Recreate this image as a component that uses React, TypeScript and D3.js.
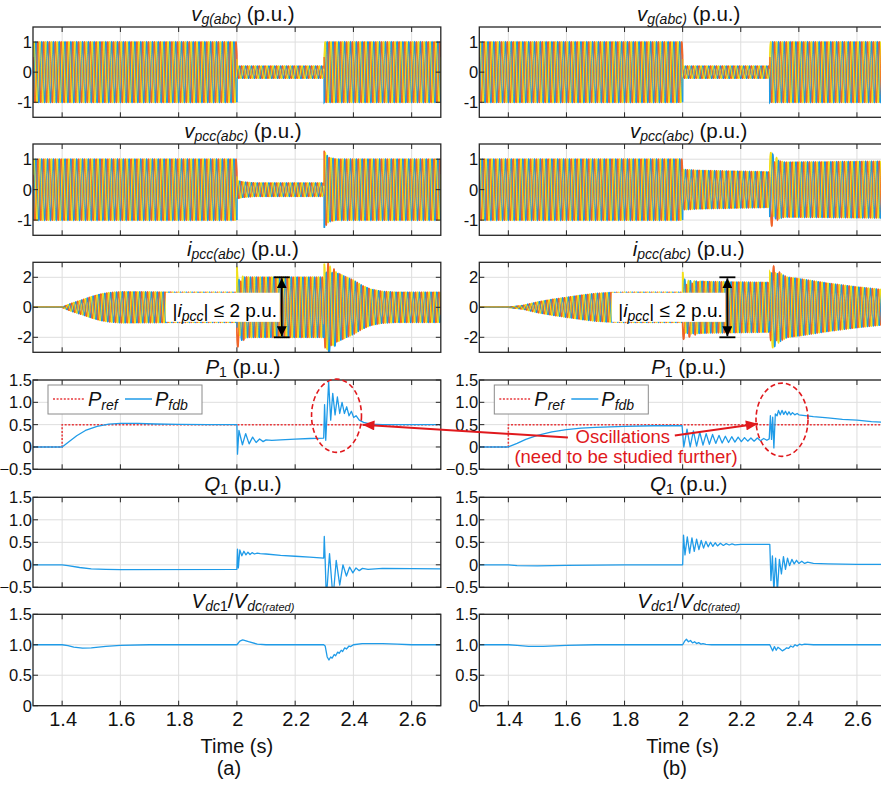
import React, { useMemo } from "react";
import * as d3 from "d3";

type Pt = [number, number];

// ---------- time axis ----------
const T_START = 1.3;
const T_END = 2.7;
const TIME_TICKS = [1.4, 1.6, 1.8, 2, 2.2, 2.4, 2.6];

// ---------- value axes ----------
const V_TICKS = [-1, 0, 1];
const I_TICKS = [-2, 0, 2];
const PQ_TICKS = [-0.5, 0, 0.5, 1, 1.5];
const VDC_TICKS = [0, 0.5, 1, 1.5];

// ---------- three-phase carrier ----------
const F_GRID = 50; // Hz
const PHASE_COLORS = ["#1c9be6", "#f1652b", "#f2e01c"];
const V_PHASE_DEG = [-90, -210, 30];
const I_PHASE_DEG = [-30, -150, 90];

// Peak-amplitude envelopes of the phase quantities, [t (s), peak (p.u.)]
const vgEnv: Pt[] = [[1.3, 1], [2.0, 1], [2.0, 0.2], [2.3, 0.2], [2.3, 1], [2.7, 1]];

const vpccEnvA: Pt[] = [[1.3, 1], [2.0, 1], [2.0, 0.3], [2.02, 0.25], [2.06, 0.22], [2.3, 0.22], [2.3, 1.25], [2.315, 1.05], [2.34, 1.0], [2.7, 1.0]];
const vpccEnvB: Pt[] = [[1.3, 1], [2.0, 1], [2.0, 0.66], [2.05, 0.63], [2.3, 0.58], [2.3, 0.9], [2.31, 1.05], [2.33, 0.95], [2.35, 0.9], [2.5, 0.91], [2.7, 0.93]];

const ipccEnvA: Pt[] = [[1.3, 0], [1.4, 0], [1.43, 0.25], [1.47, 0.5], [1.5, 0.7], [1.53, 0.87], [1.56, 0.97], [1.6, 1.03], [1.7, 1.02], [1.8, 1.0], [2.0, 1.0], [2.0, 2.1], [2.04, 2.0], [2.3, 2.0], [2.3, 2.9], [2.32, 2.7], [2.34, 2.35], [2.37, 2.05], [2.4, 1.8], [2.43, 1.45], [2.46, 1.2], [2.5, 1.05], [2.55, 1.0], [2.7, 1.0]];
const ipccEnvB: Pt[] = [[1.3, 0], [1.4, 0], [1.45, 0.12], [1.5, 0.35], [1.55, 0.52], [1.6, 0.66], [1.65, 0.8], [1.7, 0.92], [1.75, 0.98], [1.8, 1.0], [2.0, 1.0], [2.0, 1.8], [2.03, 1.75], [2.1, 1.7], [2.3, 1.65], [2.3, 2.6], [2.33, 2.3], [2.36, 2.0], [2.4, 1.9], [2.5, 1.6], [2.6, 1.35], [2.7, 1.15]];

// Per-phase transient offsets (blue, orange, yellow), [t (s), offset (p.u.)]
const vpccDcA: Pt[][] = [
  [[1.3, 0], [2.7, 0]],
  [[1.3, 0], [2.3, 0], [2.3, 0.65], [2.305, 0], [2.7, 0]],
  [[1.3, 0], [2.7, 0]],
];
const vpccDcB: Pt[][] = [
  [[1.3, 0], [2.3, 0], [2.302, 0.15], [2.33, 0], [2.7, 0]],
  [[1.3, 0], [2.3, 0], [2.3, -0.25], [2.33, 0], [2.7, 0]],
  [[1.3, 0], [2.3, 0], [2.3, 0.3], [2.33, 0], [2.7, 0]],
];
const ipccDcA: Pt[][] = [
  [[1.3, 0], [2.0, 0], [2.0, -0.3], [2.03, 0], [2.3, 0], [2.3, -0.6], [2.35, 0], [2.7, 0]],
  [[1.3, 0], [2.0, 0], [2.0, -0.6], [2.03, 0], [2.3, 0], [2.3, 0.2], [2.35, 0], [2.7, 0]],
  [[1.3, 0], [2.0, 0], [2.0, 0.6], [2.015, 0], [2.7, 0]],
];
const ipccDcB: Pt[][] = [
  [[1.3, 0], [2.0, 0], [2.0, 0.1], [2.03, 0], [2.3, 0], [2.3, -0.3], [2.34, 0], [2.7, 0]],
  [[1.3, 0], [2.0, 0], [2.0, -0.35], [2.06, 0], [2.3, 0], [2.3, 0.4], [2.34, 0], [2.7, 0]],
  [[1.3, 0], [2.0, 0], [2.0, 0.55], [2.012, 0], [2.3, 0], [2.3, -0.25], [2.34, 0], [2.7, 0]],
];

// ---------- active power ----------
const pRef: Pt[] = [[1.3, 0], [1.4, 0], [1.4, 0.5], [2.7, 0.5]];
const pFdbA: Pt[] = [
  [1.3, 0], [1.4, 0], [1.42, 0.1], [1.45, 0.25], [1.48, 0.37], [1.52, 0.46], [1.56, 0.51], [1.6, 0.53], [1.66, 0.53], [1.72, 0.515], [1.8, 0.505], [1.9, 0.5], [2.0, 0.5],
  [2.002, -0.16], [2.007, 0.37], [2.019, 0.05], [2.03, 0.3], [2.042, 0.07], [2.054, 0.22], [2.066, 0.1], [2.078, 0.18], [2.09, 0.12], [2.1, 0.16], [2.12, 0.15], [2.15, 0.16], [2.2, 0.175], [2.25, 0.19], [2.298, 0.2],
  [2.301, 0.95], [2.305, 0.15], [2.315, 1.46], [2.322, 0.6], [2.329, 1.2], [2.337, 0.72], [2.345, 1.12], [2.353, 0.75], [2.361, 1.0], [2.369, 0.75], [2.377, 0.9], [2.385, 0.7], [2.393, 0.8], [2.401, 0.66], [2.409, 0.7], [2.42, 0.6], [2.435, 0.55], [2.46, 0.51], [2.5, 0.5], [2.7, 0.5],
];
const pFdbB: Pt[] = [
  [1.3, 0], [1.4, 0], [1.43, 0.08], [1.46, 0.17], [1.5, 0.26], [1.55, 0.34], [1.6, 0.39], [1.65, 0.42], [1.7, 0.44], [1.8, 0.46], [1.9, 0.475], [1.998, 0.48],
  [2.004, 0.0], [2.015, 0.4], [2.026, 0.0], [2.037, 0.36], [2.048, 0.02], [2.059, 0.33], [2.07, 0.04], [2.081, 0.3], [2.092, 0.06], [2.103, 0.28], [2.114, 0.08], [2.125, 0.26], [2.136, 0.09], [2.147, 0.24], [2.158, 0.1], [2.169, 0.23], [2.18, 0.11], [2.191, 0.22], [2.202, 0.12], [2.213, 0.21], [2.224, 0.13], [2.235, 0.2], [2.246, 0.13], [2.257, 0.2], [2.268, 0.14], [2.279, 0.19], [2.29, 0.15], [2.298, 0.18],
  [2.302, 0.7], [2.306, 0.17], [2.31, 0.67], [2.314, -0.02], [2.319, 0.74], [2.325, 0.7], [2.33, 0.82], [2.336, 0.72], [2.342, 0.82], [2.348, 0.73], [2.354, 0.8], [2.36, 0.72], [2.366, 0.79], [2.372, 0.72], [2.378, 0.77], [2.386, 0.72], [2.394, 0.75], [2.4, 0.72], [2.45, 0.68], [2.5, 0.65], [2.55, 0.62], [2.6, 0.6], [2.65, 0.57], [2.7, 0.55],
];

// ---------- reactive power ----------
const qA: Pt[] = [
  [1.3, 0], [1.4, 0], [1.42, -0.02], [1.46, -0.06], [1.5, -0.09], [1.55, -0.1], [1.6, -0.105], [2.0, -0.1],
  [2.002, 0.35], [2.005, -0.07], [2.01, 0.33], [2.017, 0.2], [2.024, 0.3], [2.031, 0.22], [2.038, 0.28], [2.045, 0.23], [2.052, 0.27], [2.06, 0.24], [2.07, 0.26], [2.08, 0.25], [2.1, 0.24], [2.15, 0.21], [2.2, 0.19], [2.25, 0.17], [2.298, 0.15],
  [2.3, 0.63], [2.303, 0.1], [2.307, -0.75], [2.318, 0.25], [2.33, -0.75], [2.341, 0.1], [2.353, -0.45], [2.364, 0.0], [2.376, -0.25], [2.387, -0.05], [2.398, -0.18], [2.409, -0.07], [2.42, -0.13], [2.431, -0.08], [2.45, -0.1], [2.5, -0.08], [2.6, -0.085], [2.7, -0.09],
];
const qB: Pt[] = [
  [1.3, 0], [1.4, 0], [1.43, -0.02], [1.5, -0.025], [1.6, -0.015], [1.7, -0.005], [1.8, 0], [2.0, 0],
  [2.003, 0.66], [2.008, 0.22], [2.016, 0.62], [2.024, 0.26], [2.032, 0.6], [2.04, 0.3], [2.048, 0.57], [2.056, 0.34], [2.064, 0.54], [2.072, 0.37], [2.08, 0.52], [2.088, 0.4], [2.096, 0.5], [2.104, 0.41], [2.112, 0.49], [2.12, 0.42], [2.13, 0.48], [2.14, 0.43], [2.15, 0.47], [2.16, 0.44], [2.17, 0.465], [2.18, 0.445], [2.2, 0.455], [2.25, 0.455], [2.3, 0.455],
  [2.304, -0.35], [2.309, 0.2], [2.314, -0.6], [2.32, 0.15], [2.326, -0.6], [2.333, 0.12], [2.34, -0.2], [2.347, 0.18], [2.354, -0.1], [2.361, 0.15], [2.368, -0.02], [2.376, 0.12], [2.384, 0.02], [2.392, 0.1], [2.4, 0.03], [2.41, 0.08], [2.42, 0.03], [2.43, 0.06], [2.45, 0.03], [2.5, 0.02], [2.6, 0.01], [2.7, 0.01],
];

// ---------- DC-link voltage ----------
const vdcA: Pt[] = [
  [1.3, 1], [1.4, 1], [1.42, 0.985], [1.44, 0.96], [1.47, 0.945], [1.5, 0.95], [1.55, 0.975], [1.6, 0.99], [1.7, 1.0], [2.0, 1.0],
  [2.01, 1.06], [2.02, 1.08], [2.04, 1.05], [2.07, 1.01], [2.1, 1.0], [2.2, 1.0], [2.298, 1.0],
  [2.303, 0.98], [2.31, 0.8], [2.316, 0.75], [2.322, 0.8], [2.327, 0.78], [2.334, 0.84], [2.339, 0.82], [2.346, 0.88], [2.351, 0.86], [2.358, 0.91], [2.363, 0.89], [2.37, 0.95], [2.376, 0.93], [2.385, 0.98], [2.39, 0.97], [2.4, 1.0], [2.43, 1.02], [2.5, 1.02], [2.55, 1.01], [2.6, 1.0], [2.7, 1.0],
];
const vdcB: Pt[] = [
  [1.3, 1], [1.4, 1], [1.43, 0.99], [1.47, 0.975], [1.52, 0.975], [1.6, 0.99], [1.7, 1.0], [2.0, 1.0],
  [2.007, 1.06], [2.013, 1.09], [2.02, 1.05], [2.027, 1.07], [2.034, 1.03], [2.041, 1.05], [2.048, 1.02], [2.055, 1.035], [2.063, 1.01], [2.07, 1.02], [2.08, 1.005], [2.1, 1.0], [2.3, 1.0],
  [2.306, 0.94], [2.31, 0.9], [2.316, 0.97], [2.322, 0.91], [2.328, 0.96], [2.336, 0.93], [2.343, 0.9], [2.35, 0.92], [2.358, 0.95], [2.365, 0.94], [2.372, 0.98], [2.38, 0.96], [2.387, 1.0], [2.394, 0.98], [2.402, 1.01], [2.41, 1.0], [2.42, 1.01], [2.45, 1.0], [2.7, 1.0],
];

// ---------- styling / layout ----------
const W = 881;
const H = 785;
const FONT = "Liberation Sans, Arimo, Arial, Roboto, sans-serif";
const LINE_BLUE = "#1f9be8";
const REF_RED = "#e8393c";
const NOTE_RED = "#e0191d";
const GRID = "#dedede";
const FRAME = "#262626";

const COLS = [
  { x0: 33, x1: 440.8, tag: "(a)" },
  { x0: 479.3, x1: 886, tag: "(b)" },
];
const ROWS = [
  { top: 27, bottom: 117.3, dom: [-1.5, 1.5], ticks: V_TICKS },
  { top: 144, bottom: 235.3, dom: [-1.5, 1.5], ticks: V_TICKS },
  { top: 262.3, bottom: 352.3, dom: [-3, 3], ticks: I_TICKS },
  { top: 380, bottom: 469.3, dom: [-0.5, 1.5], ticks: PQ_TICKS },
  { top: 497.3, bottom: 587.3, dom: [-0.5, 1.5], ticks: PQ_TICKS },
  { top: 614.3, bottom: 705.7, dom: [0, 1.5], ticks: VDC_TICKS },
];

const COLUMN_DATA = [
  { vg: vgEnv, vpcc: vpccEnvA, vpccDc: vpccDcA, ipcc: ipccEnvA, ipccDc: ipccDcA, pfdb: pFdbA, q: qA, vdc: vdcA },
  { vg: vgEnv, vpcc: vpccEnvB, vpccDc: vpccDcB, ipcc: ipccEnvB, ipccDc: ipccDcB, pfdb: pFdbB, q: qB, vdc: vdcB },
];

function valueAt(pts: Pt[], t: number): number {
  if (t <= pts[0][0]) return pts[0][1];
  for (let i = pts.length - 1; i >= 0; i--) {
    if (pts[i][0] <= t) {
      if (i === pts.length - 1) return pts[i][1];
      const [t0, v0] = pts[i];
      const [t1, v1] = pts[i + 1];
      if (t1 === t0) return v1;
      return v0 + ((v1 - v0) * (t - t0)) / (t1 - t0);
    }
  }
  return pts[0][1];
}

function phaseTrace(env: Pt[], dc: Pt[] | null, deg: number): Pt[] {
  const dt = 0.00025;
  const n = Math.round((T_END - T_START) / dt);
  const out: Pt[] = [];
  for (let k = 0; k <= n; k++) {
    const t = T_START + k * dt;
    const a = valueAt(env, t);
    const off = dc ? valueAt(dc, t) : 0;
    out.push([t, a * Math.sin(2 * Math.PI * F_GRID * t + (deg * Math.PI) / 180) + off]);
  }
  return out;
}

function fmtTick(ri: number, v: number) {
  if (ri < 3) return String(v);
  if (v === 0) return "0";
  return d3.format(".1f")(v);
}

function T({ x, y, size = 20, anchor = "middle", fill = "#111", children }: any) {
  return (
    <text x={x} y={y} textAnchor={anchor} fill={fill} style={{ fontFamily: FONT, fontSize: `${size}px` }}>
      {children}
    </text>
  );
}

const TITLES = [
  <>
    <tspan fontStyle="italic">v</tspan>
    <tspan fontStyle="italic" fontSize={14} dy={3}>g(abc)</tspan>
    <tspan dy={-3}> (p.u.)</tspan>
  </>,
  <>
    <tspan fontStyle="italic">v</tspan>
    <tspan fontStyle="italic" fontSize={14} dy={3}>pcc(abc)</tspan>
    <tspan dy={-3}> (p.u.)</tspan>
  </>,
  <>
    <tspan fontStyle="italic">i</tspan>
    <tspan fontStyle="italic" fontSize={14} dy={3}>pcc(abc)</tspan>
    <tspan dy={-3}> (p.u.)</tspan>
  </>,
  <>
    <tspan fontStyle="italic">P</tspan>
    <tspan fontSize={14} dy={3}>1</tspan>
    <tspan dy={-3}> (p.u.)</tspan>
  </>,
  <>
    <tspan fontStyle="italic">Q</tspan>
    <tspan fontSize={14} dy={3}>1</tspan>
    <tspan dy={-3}> (p.u.)</tspan>
  </>,
  <>
    <tspan fontStyle="italic">V</tspan>
    <tspan fontStyle="italic" fontSize={14} dy={3}>dc</tspan>
    <tspan fontSize={14}>1</tspan>
    <tspan dy={-3}>/</tspan>
    <tspan fontStyle="italic">V</tspan>
    <tspan fontStyle="italic" fontSize={14} dy={3}>dc</tspan>
    <tspan fontStyle="italic" fontSize={11}>(rated)</tspan>
  </>,
];

export default function App() {
  const line = d3.line<Pt>();

  const panels = useMemo(() => {
    return COLS.map((col, ci) => {
      const data = COLUMN_DATA[ci];
      const x = d3.scaleLinear().domain([T_START, T_END]).range([col.x0, col.x1]);
      const ys = ROWS.map((r) => d3.scaleLinear().domain(r.dom).range([r.bottom, r.top]));
      const path = (pts: Pt[], y: d3.ScaleLinear<number, number>) =>
        line.x((d) => x(d[0])).y((d) => y(d[1]))(pts) || "";
      const three = (env: Pt[], dc: Pt[][] | null, degs: number[], y: d3.ScaleLinear<number, number>) =>
        degs.map((deg, p) => path(phaseTrace(env, dc ? dc[p] : null, deg), y));
      return {
        x,
        ys,
        vg: three(data.vg, null, V_PHASE_DEG, ys[0]),
        vpcc: three(data.vpcc, data.vpccDc, V_PHASE_DEG, ys[1]),
        ipcc: three(data.ipcc, data.ipccDc, I_PHASE_DEG, ys[2]),
        pref: path(pRef, ys[3]),
        pfdb: path(data.pfdb, ys[3]),
        q: path(data.q, ys[4]),
        vdc: path(data.vdc, ys[5]),
      };
    });
  }, []);

  const A = panels[0];
  const B = panels[1];
  const yPA = A.ys[3];
  const yPB = B.ys[3];

  // Wide strokes fill the gaps between the dense phase traces; thin cores on top keep each phase visible.
  const CORE_ORDER = [2, 1, 0];
  const wave = (paths: string[]) => (
    <>
      {paths.map((d, p) => (
        <path key={`w${p}`} d={d} stroke={PHASE_COLORS[p]} strokeWidth={1.6} />
      ))}
      {CORE_ORDER.map((p) => (
        <path key={`c${p}`} d={paths[p]} stroke={PHASE_COLORS[p]} strokeWidth={0.75} />
      ))}
    </>
  );

  return (
    <svg
      width={W}
      height={H}
      viewBox={`0 0 ${W} ${H}`}
      style={{ position: "absolute", left: 0, top: 0, display: "block", background: "#fff" }}
    >
      <defs>
        {COLS.map((col, ci) =>
          ROWS.map((r, ri) => (
            <clipPath id={`clip-${ci}-${ri}`} key={`c${ci}${ri}`}>
              <rect x={col.x0} y={r.top} width={col.x1 - col.x0} height={r.bottom - r.top} />
            </clipPath>
          ))
        )}
        <marker id="redHead" viewBox="0 0 12 10" refX="12" refY="5" markerWidth="13" markerHeight="10" markerUnits="userSpaceOnUse" orient="auto">
          <path d="M0,0 L12,5 L0,10 Z" fill={NOTE_RED} />
        </marker>
        <marker id="blackHead" viewBox="0 0 10 10" refX="10" refY="5" markerWidth="10" markerHeight="10" markerUnits="userSpaceOnUse" orient="auto-start-reverse">
          <path d="M0,0 L10,5 L0,10 Z" fill="#000" />
        </marker>
      </defs>
      <rect x={0} y={0} width={W} height={H} fill="#fff" />

      {COLS.map((col, ci) => {
        const P = panels[ci];
        const x = P.x;
        const cx = (col.x0 + col.x1) / 2;
        return (
          <g key={`col${ci}`}>
            {ROWS.map((r, ri) => {
              const y = P.ys[ri];
              return (
                <g key={`row${ri}`}>
                  {/* grid */}
                  {TIME_TICKS.map((t) => (
                    <line key={`gx${t}`} x1={x(t)} x2={x(t)} y1={r.top} y2={r.bottom} stroke={GRID} strokeWidth={1} />
                  ))}
                  {r.ticks.map((v) => (
                    <line key={`gy${v}`} x1={col.x0} x2={col.x1} y1={y(v)} y2={y(v)} stroke={GRID} strokeWidth={1} />
                  ))}

                  {/* traces */}
                  <g clipPath={`url(#clip-${ci}-${ri})`} fill="none">
                    {ri === 0 && wave(P.vg)}
                    {ri === 1 && wave(P.vpcc)}
                    {ri === 2 && wave(P.ipcc)}
                    {ri === 3 && (
                      <>
                        <path d={P.pref} stroke={REF_RED} strokeWidth={1.5} strokeDasharray="2,1.6" />
                        <path d={P.pfdb} stroke={LINE_BLUE} strokeWidth={1.3} strokeLinejoin="round" />
                      </>
                    )}
                    {ri === 4 && <path d={P.q} stroke={LINE_BLUE} strokeWidth={1.3} strokeLinejoin="round" />}
                    {ri === 5 && <path d={P.vdc} stroke={LINE_BLUE} strokeWidth={1.3} strokeLinejoin="round" />}
                  </g>

                  {/* frame and inward ticks */}
                  <rect x={col.x0} y={r.top} width={col.x1 - col.x0} height={r.bottom - r.top} fill="none" stroke={FRAME} strokeWidth={1.3} />
                  {TIME_TICKS.map((t) => (
                    <g key={`tx${t}`} stroke={FRAME} strokeWidth={1}>
                      <line x1={x(t)} x2={x(t)} y1={r.top} y2={r.top + 5} />
                      <line x1={x(t)} x2={x(t)} y1={r.bottom} y2={r.bottom - 5} />
                    </g>
                  ))}
                  {r.ticks.map((v) => (
                    <g key={`ty${v}`} stroke={FRAME} strokeWidth={1}>
                      <line x1={col.x0} x2={col.x0 + 5} y1={y(v)} y2={y(v)} />
                      <line x1={col.x1} x2={col.x1 - 5} y1={y(v)} y2={y(v)} />
                    </g>
                  ))}

                  {/* y tick labels */}
                  {r.ticks.map((v) => (
                    <T key={`ly${v}`} x={col.x0 - 1} y={y(v) + 6} anchor="end" size={16.5}>
                      {fmtTick(ri, v)}
                    </T>
                  ))}

                  {/* title */}
                  <T x={cx + 6} y={r.top - 6} size={20.5}>
                    {TITLES[ri]}
                  </T>
                </g>
              );
            })}

            {/* time axis */}
            {TIME_TICKS.map((t) => (
              <T key={`lx${t}`} x={x(t) + 1} y={726} size={20}>
                {String(t)}
              </T>
            ))}
            <T x={cx} y={753} size={20}>
              Time (s)
            </T>
            <T x={cx - 8} y={775} size={20}>
              {col.tag}
            </T>

            {/* current-limit note */}
            {(() => {
              const yI = P.ys[2];
              const bx0 = x(1.756);
              const bx1 = x(2.147);
              const ax = x(2.154);
              return (
                <g>
                  <rect x={bx0} y={yI(0.97)} width={bx1 - bx0} height={yI(-0.97) - yI(0.97)} fill="#fff" />
                  <T x={(bx0 + bx1) / 2 + 2} y={yI(-0.62)} size={19} fill="#000">
                    <tspan>|</tspan>
                    <tspan fontStyle="italic">i</tspan>
                    <tspan fontStyle="italic" fontSize={14} dy={4}>pcc</tspan>
                    <tspan dy={-4}>| ≤ 2 p.u.</tspan>
                  </T>
                  <line x1={ax - 8} x2={ax + 8} y1={yI(2)} y2={yI(2)} stroke="#000" strokeWidth={1.8} />
                  <line x1={ax - 8} x2={ax + 8} y1={yI(-2)} y2={yI(-2)} stroke="#000" strokeWidth={1.8} />
                  <line x1={ax} x2={ax} y1={yI(2) + 1} y2={yI(-2) - 1} stroke="#000" strokeWidth={1.8} markerStart="url(#blackHead)" markerEnd="url(#blackHead)" />
                </g>
              );
            })()}

            {/* power legend */}
            {(() => {
              const bx = col.x0 + 15;
              const by = ROWS[3].top + 5;
              return (
                <g>
                  <rect x={bx} y={by} width={154} height={29} fill="#fff" stroke="#8a8a8a" strokeWidth={1} />
                  <line x1={bx + 5} x2={bx + 37} y1={by + 14} y2={by + 14} stroke={REF_RED} strokeWidth={1.5} strokeDasharray="2,1.6" />
                  <T x={bx + 40} y={by + 21} size={20} anchor="start" fill="#111">
                    <tspan fontStyle="italic">P</tspan>
                    <tspan fontStyle="italic" fontSize={14} dy={4}>ref</tspan>
                  </T>
                  <line x1={bx + 77} x2={bx + 104} y1={by + 14} y2={by + 14} stroke={LINE_BLUE} strokeWidth={1.5} />
                  <T x={bx + 107} y={by + 21} size={20} anchor="start" fill="#111">
                    <tspan fontStyle="italic">P</tspan>
                    <tspan fontStyle="italic" fontSize={14} dy={4}>fdb</tspan>
                  </T>
                </g>
              );
            })()}
          </g>
        );
      })}

      {/* oscillation callout */}
      <g fill="none" stroke={NOTE_RED} strokeWidth={1.6}>
        <ellipse cx={A.x(2.342)} cy={yPA(0.7)} rx={A.x(2.4277) - A.x(2.342)} ry={yPA(0) - yPA(0.82)} strokeDasharray="5,3" />
        <ellipse cx={B.x(2.342)} cy={yPB(0.61)} rx={B.x(2.4315) - B.x(2.342)} ry={yPB(0) - yPB(0.82)} strokeDasharray="5,3" />
        <line x1={B.x(1.605)} y1={yPB(0.21)} x2={A.x(2.431)} y2={yPA(0.5)} strokeWidth={2} markerEnd="url(#redHead)" />
        <line x1={B.x(1.973)} y1={yPB(0.255)} x2={B.x(2.259)} y2={yPB(0.52)} strokeWidth={2} markerEnd="url(#redHead)" />
      </g>
      <T x={B.x(1.794)} y={yPB(0.08)} size={18.5} fill={NOTE_RED}>
        Oscillations
      </T>
      <T x={B.x(1.805)} y={yPB(-0.35)} size={18.5} fill={NOTE_RED}>
        (need to be studied further)
      </T>
    </svg>
  );
}
